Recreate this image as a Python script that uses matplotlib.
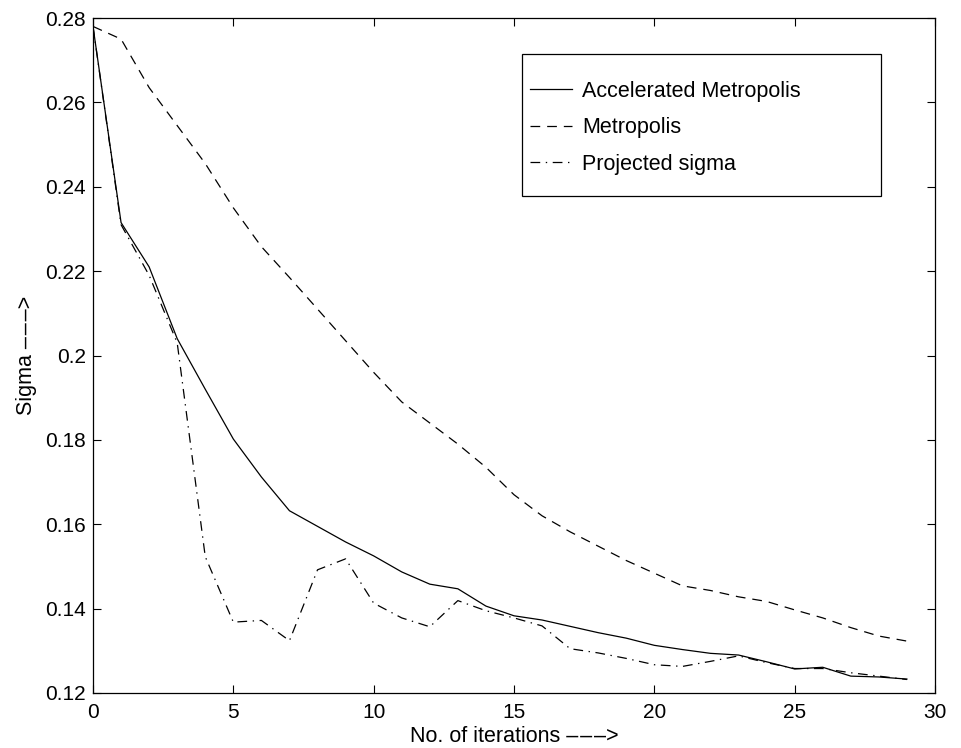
import matplotlib
matplotlib.use('Agg')
import matplotlib.pyplot as plt
from matplotlib.patches import Rectangle

plt.rcParams['font.family'] = ['Liberation Sans', 'DejaVu Sans']
plt.rcParams['lines.scale_dashes'] = False

iterations = list(range(30))

accelerated = [0.2780, 0.2315, 0.2210, 0.2040, 0.1920, 0.1802, 0.1712, 0.1632, 0.1595, 0.1558,
               0.1525, 0.1487, 0.1458, 0.1447, 0.1406, 0.1383, 0.1373, 0.1358, 0.1343, 0.1330,
               0.1313, 0.1303, 0.1294, 0.1290, 0.1274, 0.1257, 0.1261, 0.1240, 0.1238, 0.1233]

metropolis = [0.2780, 0.2750, 0.2635, 0.2545, 0.2455, 0.2350, 0.2258, 0.2185, 0.2110, 0.2035,
              0.1960, 0.1890, 0.1840, 0.1790, 0.1735, 0.1670, 0.1620, 0.1582, 0.1548, 0.1514,
              0.1484, 0.1454, 0.1443, 0.1428, 0.1417, 0.1397, 0.1378, 0.1355, 0.1335, 0.1323]

projected = [0.2780, 0.2310, 0.2190, 0.2030, 0.1523, 0.1368, 0.1372, 0.1324, 0.1492, 0.1518,
             0.1413, 0.1378, 0.1357, 0.1419, 0.1395, 0.1378, 0.1359, 0.1305, 0.1295, 0.1282,
             0.1267, 0.1263, 0.1275, 0.1288, 0.1272, 0.1258, 0.1258, 0.1248, 0.1240, 0.1232]

labels = ['Accelerated Metropolis', 'Metropolis', 'Projected sigma']

arrow = '\u2013\u200a\u2013\u200a\u2013>'

fig = plt.figure(figsize=(9.62, 7.48), dpi=100)
ax = fig.add_axes([93 / 962, 55 / 748, 842 / 962, 675 / 748])

ax.plot(iterations, accelerated, color='black', lw=0.9, label=labels[0])
ax.plot(iterations, metropolis, color='black', lw=0.9, dashes=(7, 5), label=labels[1])
ax.plot(iterations, projected, color='black', lw=0.9, dashes=(7, 4, 1, 4), label=labels[2])

ax.set_xlim(0, 30)
ax.set_ylim(0.12, 0.28)
ax.set_xticks(range(0, 31, 5))
ax.set_yticks([0.12, 0.14, 0.16, 0.18, 0.2, 0.22, 0.24, 0.26, 0.28])
ax.set_yticklabels(['0.12', '0.14', '0.16', '0.18', '0.2', '0.22', '0.24', '0.26', '0.28'])
ax.tick_params(direction='in', length=6, width=0.8, top=True, right=True, labelsize=15)
ax.tick_params(axis='y', pad=5)
ax.tick_params(axis='x', pad=7)
for spine in ax.spines.values():
    spine.set_linewidth(0.9)

ax.set_xlabel('No. of iterations ' + arrow, fontsize=15.5, labelpad=3)
ax.set_ylabel('Sigma ' + arrow, fontsize=15.5, labelpad=6)

# Legend box drawn by hand to match the wide padded frame
fig.add_artist(Rectangle((522 / 962, 1 - 196 / 748), 359 / 962, 142 / 748,
                         transform=fig.transFigure, fill=False, edgecolor='black', lw=0.9))
ax.legend(loc='center left', bbox_to_anchor=(519 / 962, 1 - 128 / 748),
          bbox_transform=fig.transFigure, frameon=False, fontsize=15.5,
          handlelength=1.95, handletextpad=0.47, labelspacing=0.72, borderpad=0)

fig.savefig('out.png', dpi=100)
